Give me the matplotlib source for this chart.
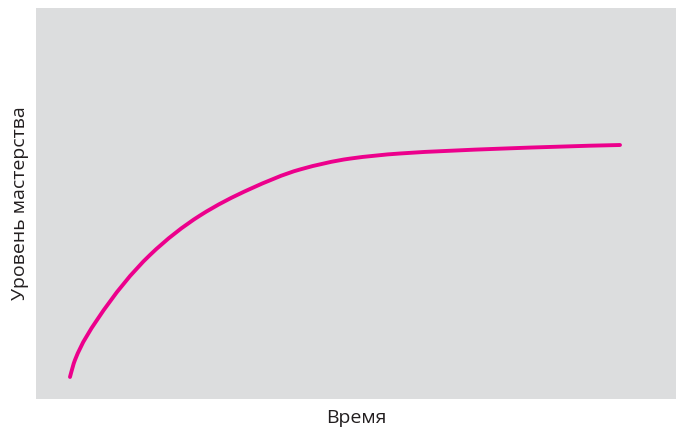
import matplotlib
matplotlib.use("Agg")
import matplotlib.pyplot as plt
from matplotlib.path import Path
from matplotlib.patches import PathPatch

# Learning curve: mastery level over time
time = [5.31, 6.09, 9.53, 17.81, 25.63, 33.44, 41.25, 49.06, 56.88, 72.50,
        91.25]
mastery = [5.63, 9.97, 20.20, 36.83, 46.93, 53.71, 58.70, 61.48, 62.79,
           64.02, 64.96]

x_label = "Время"
y_label = "Уровень мастерства"

plt.rcParams["font.family"] = ["Open Sans", "DejaVu Sans"]


def smooth_path(xs, ys):
    """Monotone cubic (Fritsch-Carlson) Bezier path through the points."""
    n = len(xs)
    h = [xs[i + 1] - xs[i] for i in range(n - 1)]
    d = [(ys[i + 1] - ys[i]) / h[i] for i in range(n - 1)]
    m = [0.0] * n
    for i in range(1, n - 1):
        if d[i - 1] * d[i] <= 0:
            m[i] = 0.0
        else:
            w1 = 2 * h[i] + h[i - 1]
            w2 = h[i] + 2 * h[i - 1]
            m[i] = (w1 + w2) / (w1 / d[i - 1] + w2 / d[i])
    m[0] = max(((2 * h[0] + h[1]) * d[0] - h[0] * d[1]) / (h[0] + h[1]), 0)
    m[-1] = max(((2 * h[-1] + h[-2]) * d[-1] - h[-1] * d[-2]) / (h[-1] + h[-2]), 0)
    verts = [(xs[0], ys[0])]
    codes = [Path.MOVETO]
    for i in range(n - 1):
        t = h[i] / 3
        verts += [(xs[i] + t, ys[i] + m[i] * t),
                  (xs[i + 1] - t, ys[i + 1] - m[i + 1] * t),
                  (xs[i + 1], ys[i + 1])]
        codes += [Path.CURVE4] * 3
    return Path(verts, codes)


fig = plt.figure(figsize=(6.77, 4.30), dpi=100)
ax = fig.add_axes([36 / 677, 31 / 430, 640 / 677, 391 / 430])
ax.set_facecolor("#dcddde")
curve = PathPatch(smooth_path(time, mastery), facecolor="none",
                  edgecolor="#ec008c", linewidth=2.8, capstyle="round",
                  joinstyle="round")
ax.add_patch(curve)
ax.set_xlim(0, 100)
ax.set_ylim(0, 100)
ax.set_xticks([])
ax.set_yticks([])
for s in ax.spines.values():
    s.set_visible(False)

ax.set_xlabel(x_label, fontsize=14, color="#231f20", labelpad=7)
ax.set_ylabel(y_label, fontsize=14, color="#231f20", labelpad=5)

fig.savefig("out.png", dpi=100)
